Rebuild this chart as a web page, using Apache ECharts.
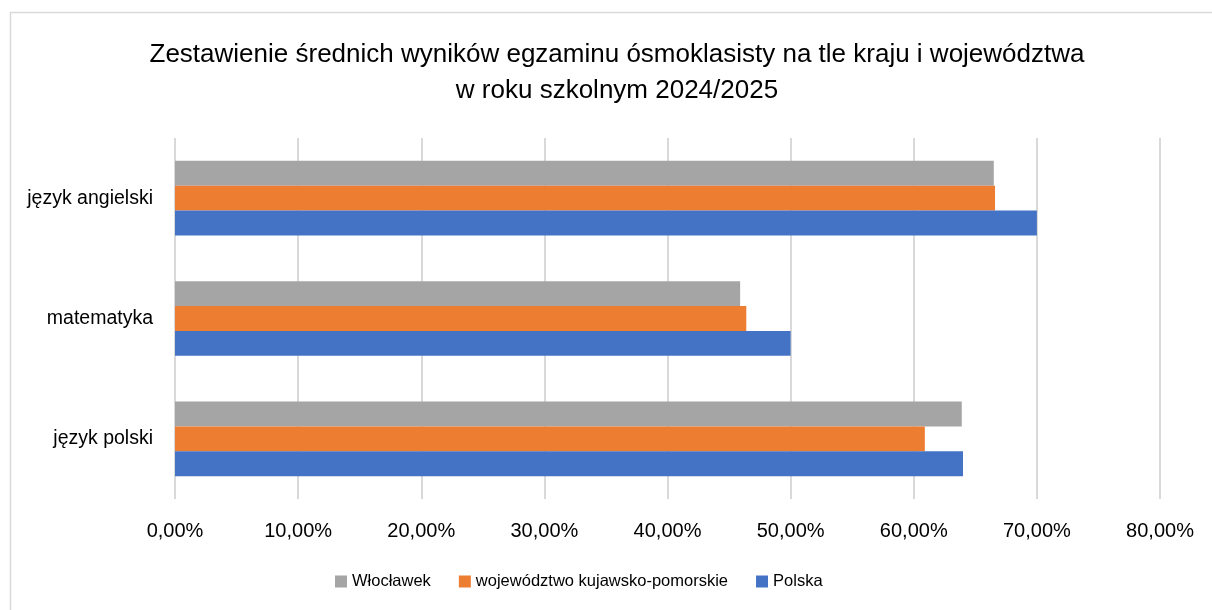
<!DOCTYPE html>
<html>
<head>
<meta charset="utf-8">
<script src="https://cdn.jsdelivr.net/npm/echarts@6/dist/echarts.min.js"></script>
<style>
  html, body { margin: 0; padding: 0; background: #fff; }
  #main { width: 1212px; height: 610px; }
</style>
</head>
<body>
<div id="main"></div>
<script>
  // kategorie (od dołu do góry)
  const subjects = ['język polski', 'matematyka', 'język angielski'];
  const seriesNames = ['Włocławek', 'województwo kujawsko-pomorskie', 'Polska'];
  const wloclawek = [63.9, 45.9, 66.5];
  const wojewodztwo = [60.9, 46.4, 66.6];
  const polska = [64.0, 50.0, 70.0];
  const colors = ['#a5a5a5', '#ed7d31', '#4472c4'];

  let myChart = echarts.init(document.getElementById('main'));

  const font = '"Liberation Sans", Arial, sans-serif';

  function fmt(v) {
    return v.toFixed(2).replace('.', ',') + '%';
  }

  let option = {
    backgroundColor: '#fff',
    animation: false,
    textStyle: { fontFamily: font },
    graphic: [{
      type: 'rect',
      shape: { x: 10.5, y: 12.5, width: 1230, height: 640 },
      style: { fill: 'none', stroke: '#d9d9d9', lineWidth: 1.5 },
      silent: true
    }],
    title: {
      text: 'Zestawienie średnich wyników egzaminu ósmoklasisty na tle kraju i województwa\nw roku szkolnym 2024/2025',
      left: 612,
      textAlign: 'center',
      top: 32,
      textStyle: {
        fontFamily: font,
        fontSize: 26,
        fontWeight: 'normal',
        color: '#000',
        lineHeight: 36
      }
    },
    legend: {
      data: seriesNames,
      top: 568,
      left: 330,
      itemWidth: 12,
      itemHeight: 12,
      itemGap: 28,
      icon: 'rect',
      textStyle: { fontFamily: font, fontSize: 16.5, color: '#000' }
    },
    grid: {
      left: 175,
      right: 52,
      top: 138,
      bottom: 111,
      containLabel: false,
      outerBoundsMode: 'none'
    },
    xAxis: {
      type: 'value',
      min: 0,
      max: 80,
      interval: 10,
      axisLine: { show: false },
      axisTick: { show: false },
      splitLine: { lineStyle: { color: '#d9d9d9', width: 2 } },
      axisLabel: {
        margin: 22,
        fontFamily: font,
        fontSize: 20,
        color: '#000',
        formatter: fmt
      }
    },
    yAxis: {
      type: 'category',
      data: subjects,
      axisLine: { show: false },
      axisTick: { show: false },
      axisLabel: {
        margin: 22,
        fontFamily: font,
        fontSize: 19.5,
        color: '#000'
      }
    },
    series: [
      {
        name: seriesNames[0],
        type: 'bar',
        data: wloclawek,
        itemStyle: { color: colors[0] },
        barGap: '0%',
        barCategoryGap: '38%'
      },
      {
        name: seriesNames[1],
        type: 'bar',
        data: wojewodztwo,
        itemStyle: { color: colors[1] },
        barGap: '0%',
        barCategoryGap: '38%'
      },
      {
        name: seriesNames[2],
        type: 'bar',
        data: polska,
        itemStyle: { color: colors[2] },
        barGap: '0%',
        barCategoryGap: '38%'
      }
    ]
  };

  myChart.setOption(option);
</script>
</body>
</html>
